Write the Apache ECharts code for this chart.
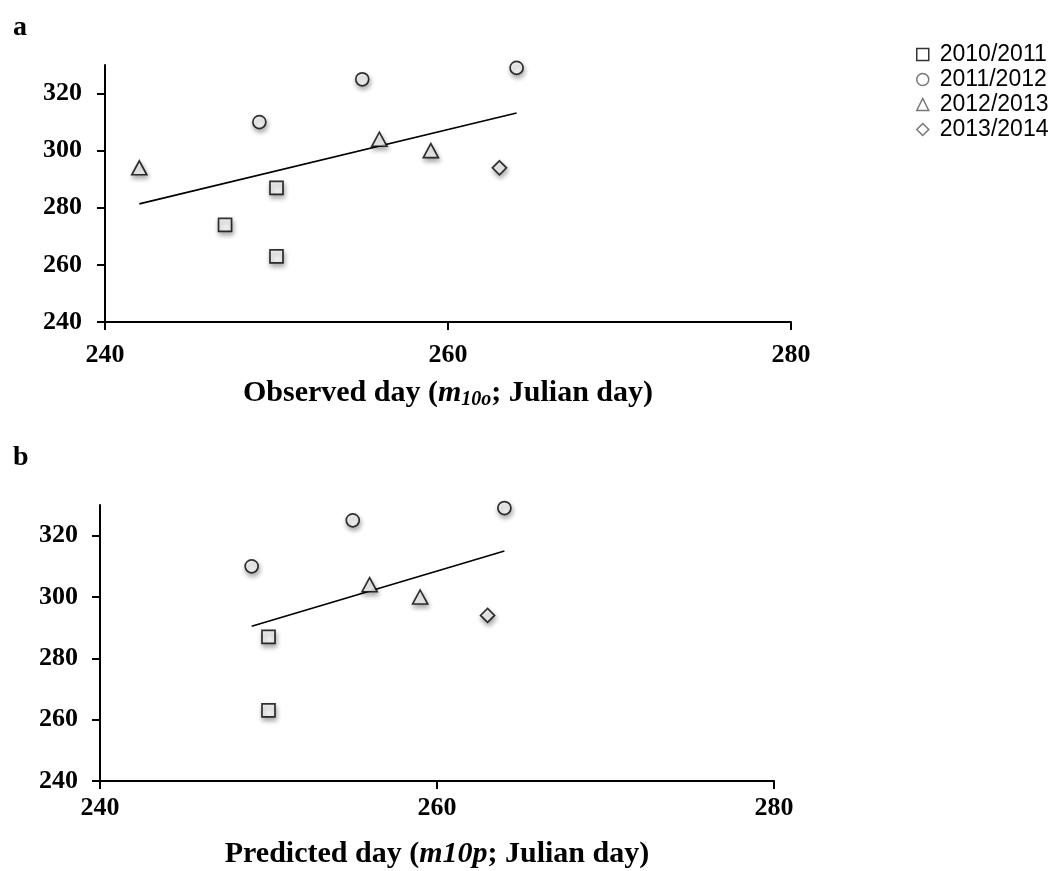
<!DOCTYPE html>
<html>
<head>
<meta charset="utf-8">
<script src="https://cdn.jsdelivr.net/npm/echarts@6/dist/echarts.min.js"></script>
<style>
  html, body { margin: 0; padding: 0; background: #fff; }
  #chart { width: 1052px; height: 871px; }
</style>
</head>
<body>
<div id="chart"></div>
<script>
// seasons shown in the legend
const seasons = ['2010/2011', '2011/2012', '2012/2013', '2013/2014']
const seasonSymbols = ['rect', 'circle', 'triangle', 'diamond']
const symbolSizes = [13, 13, [15, 14], 14]

// axis ticks
const xTicks = [240, 260, 280]
const yTicks = [240, 260, 280, 300, 320]

// panel a: observed day vs y
const obs1011 = [[247, 274], [250, 287], [250, 263]]
const obs1112 = [[249, 310], [255, 325], [264, 329]]
const obs1213 = [[242, 294], [256, 304], [259, 300]]
const obs1314 = [[263, 294]]

// panel b: predicted day vs y
const pred1011 = [[250, 287], [250, 263]]
const pred1112 = [[249, 310], [255, 325], [264, 329]]
const pred1213 = [[256, 304], [259, 300]]
const pred1314 = [[263, 294]]

const serif = 'Liberation Serif'
const sans = 'Liberation Sans'

// least squares line over all points of a panel
function trend(groups) {
  const pts = [].concat(...groups)
  const n = pts.length
  const mx = pts.reduce((s, p) => s + p[0], 0) / n
  const my = pts.reduce((s, p) => s + p[1], 0) / n
  let sxy = 0
  let sxx = 0
  pts.forEach(p => {
    sxy += (p[0] - mx) * (p[1] - my)
    sxx += (p[0] - mx) * (p[0] - mx)
  })
  const k = sxy / sxx
  const xs = pts.map(p => p[0])
  const x0 = Math.min(...xs)
  const x1 = Math.max(...xs)
  return [[x0, my + k * (x0 - mx)], [x1, my + k * (x1 - mx)]]
}

const markerStyle = {
  color: '#fff',
  borderColor: '#000',
  borderWidth: 1.7,
  shadowBlur: 5,
  shadowColor: 'rgba(0,0,0,0.4)',
  shadowOffsetX: 1,
  shadowOffsetY: 3
}

function scatterSeries(groups, idx) {
  return groups.map((data, i) => ({
    name: seasons[i],
    type: 'scatter',
    xAxisIndex: idx,
    yAxisIndex: idx,
    symbol: seasonSymbols[i],
    symbolSize: symbolSizes[i],
    itemStyle: markerStyle,
    data: data,
    z: 3
  }))
}

function lineSeries(groups, idx) {
  return {
    type: 'line',
    xAxisIndex: idx,
    yAxisIndex: idx,
    symbol: 'none',
    lineStyle: { color: '#000', width: 1.7 },
    data: trend(groups),
    z: 2,
    silent: true
  }
}

const axisLine = { show: true, lineStyle: { color: '#000', width: 2 } }
const tickFont = { fontFamily: serif, fontWeight: 'bold', fontSize: 26, color: '#000' }

function xAxis(idx, name, gap, labelMargin) {
  return {
    gridIndex: idx,
    type: 'value',
    min: 240,
    max: 280,
    interval: 20,
    axisLine: axisLine,
    axisTick: { show: true, inside: false, length: 8, lineStyle: { color: '#000', width: 2 }, customValues: xTicks },
    axisLabel: Object.assign({ margin: labelMargin, customValues: xTicks }, tickFont),
    splitLine: { show: false },
    name: name,
    nameLocation: 'middle',
    nameGap: gap,
    nameTextStyle: {
      rich: {
        b: { fontFamily: serif, fontWeight: 'bold', fontSize: 30, color: '#000' },
        i: { fontFamily: serif, fontWeight: 'bold', fontStyle: 'italic', fontSize: 30, color: '#000' },
        s: { fontFamily: serif, fontWeight: 'bold', fontStyle: 'italic', fontSize: 20, color: '#000', padding: [13, 0, 0, 0] }
      }
    }
  }
}

function yAxis(idx, labelMargin) {
  return {
    gridIndex: idx,
    type: 'value',
    min: 240,
    max: 330,
    interval: 20,
    axisLine: axisLine,
    axisTick: { show: true, inside: false, length: 8, lineStyle: { color: '#000', width: 2 }, customValues: yTicks },
    axisLabel: Object.assign({ margin: labelMargin, customValues: yTicks }, tickFont),
    splitLine: { show: false }
  }
}

const obsGroups = [obs1011, obs1112, obs1213, obs1314]
const predGroups = [pred1011, pred1112, pred1213, pred1314]

const chart = echarts.init(document.getElementById('chart'), null, { renderer: 'canvas' })
chart.setOption({
  backgroundColor: '#fff',
  animation: false,
  title: [
    { text: 'a', left: 8, top: 9, textStyle: { fontFamily: serif, fontWeight: 'bold', fontSize: 28, color: '#000' } },
    { text: 'b', left: 8, top: 439, textStyle: { fontFamily: serif, fontWeight: 'bold', fontSize: 28, color: '#000' } }
  ],
  legend: {
    orient: 'vertical',
    left: 911,
    top: 38,
    itemWidth: 12,
    itemHeight: 12,
    itemGap: 2,
    textStyle: { fontFamily: sans, fontSize: 23, color: '#000', padding: [0, 0, 0, 6] },
    data: seasons.map((s, i) => ({
      name: s,
      icon: seasonSymbols[i],
      itemStyle: { color: '#fff', borderColor: i === 0 ? '#000' : '#555', borderWidth: 1.5, shadowBlur: 0, shadowOffsetX: 0, shadowOffsetY: 0 }
    }))
  },
  grid: [
    { left: 105, right: 261, top: 65, bottom: 549 },
    { left: 100, right: 278, top: 505, bottom: 90 }
  ],
  xAxis: [
    xAxis(0, '{b|Observed day (}{i|m}{s|10o}{b|; Julian day)}', 55, 20),
    xAxis(1, '{b|Predicted day (}{i|m10p}{b|; Julian day)}', 58, 14)
  ],
  yAxis: [yAxis(0, 23), yAxis(1, 22)],
  series: [
    ...scatterSeries(obsGroups, 0),
    lineSeries(obsGroups, 0),
    ...scatterSeries(predGroups, 1),
    lineSeries(predGroups, 1)
  ]
})
</script>
</body>
</html>
